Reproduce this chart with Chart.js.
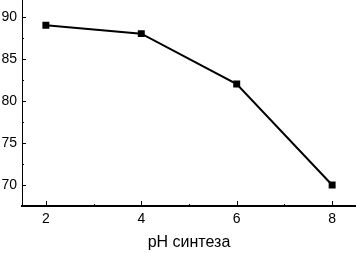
<!DOCTYPE html>
<html><head><meta charset="utf-8">
<script src="https://cdn.jsdelivr.net/npm/chart.js@4"></script>
<style>html,body{margin:0;padding:0;background:#fff}canvas{display:block}</style>
</head><body>
<canvas id="c" width="356" height="253"></canvas>
<script>
const phValues = [2, 4, 6, 8];
const yieldValues = [89, 88, 82, 70];
const xTickLabels = [2, 4, 6, 8];
const yTickLabels = [70, 75, 80, 85, 90];
const xMinorTicks = [3, 5, 7];
const yMinorTicks = [72.5, 77.5, 82.5, 87.5];
const xTitle = 'pH синтеза';

const innerTicks = {
  id: 'innerTicks',
  afterDraw(chart) {
    const ctx = chart.ctx, xs = chart.scales.x, ys = chart.scales.y;
    const a = chart.chartArea;
    ctx.save();
    ctx.strokeStyle = '#000';
    ctx.lineWidth = 1;
    const hx = (v, len) => { const p = Math.round(xs.getPixelForValue(v)) + 0.5; ctx.beginPath(); ctx.moveTo(p, a.bottom); ctx.lineTo(p, a.bottom - len); ctx.stroke(); };
    const hy = (v, len) => { const p = Math.round(ys.getPixelForValue(v)) + 0.5; ctx.beginPath(); ctx.moveTo(a.left, p); ctx.lineTo(a.left + len, p); ctx.stroke(); };
    xTickLabels.forEach(v => hx(v, 5));
    xMinorTicks.forEach(v => hx(v, 2));
    yTickLabels.forEach(v => hy(v, 4));
    yMinorTicks.forEach(v => hy(v, 2));
    ctx.restore();
  }
};

const font = { family: 'Liberation Sans, Arial, sans-serif', size: 14 };
const titleFont = { family: 'Liberation Sans, Arial, sans-serif', size: 16 };
new Chart(document.getElementById('c'), {
  type: 'line',
  data: {
    datasets: [{
      data: phValues.map((x, i) => ({ x, y: yieldValues[i] })),
      borderColor: '#000', backgroundColor: '#000', borderWidth: 2,
      pointStyle: 'rect', pointRadius: 3.5, pointHoverRadius: 3.5,
      tension: 0, clip: false
    }]
  },
  options: {
    responsive: false, animation: false, devicePixelRatio: 1,
    layout: { padding: 0, autoPadding: false },
    plugins: { legend: { display: false }, tooltip: { enabled: false } },
    scales: {
      x: {
        type: 'linear', min: 1.5, max: 8.5,
        afterBuildTicks: s => { s.ticks = xTickLabels.map(v => ({ value: v })); },
        afterFit: s => { s.height = 47; s.paddingLeft = 0; s.paddingRight = 0; },
        grid: { display: false, drawTicks: false },
        border: { display: true, color: '#000', width: 2 },
        ticks: { color: '#000', font, padding: 5, maxRotation: 0, autoSkip: false },
        title: { display: true, text: xTitle, color: '#000', font: titleFont, padding: { top: 0, bottom: 1 } }
      },
      y: {
        type: 'linear', min: 67.5, max: 92,
        afterBuildTicks: s => { s.ticks = yTickLabels.map(v => ({ value: v })); },
        afterFit: s => { s.width = 22; s.paddingTop = 0; s.paddingBottom = 0; },
        grid: { display: false, drawTicks: false },
        border: { display: true, color: '#000', width: 1 },
        ticks: { color: '#000', font, padding: 5, autoSkip: false }
      }
    }
  },
  plugins: [innerTicks]
});
</script>
</body></html>
